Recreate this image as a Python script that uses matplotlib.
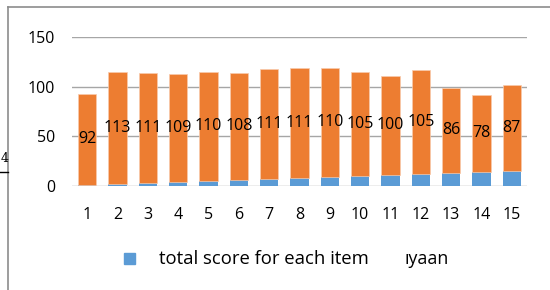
import matplotlib.pyplot as plt
from matplotlib.patches import Rectangle
from matplotlib.lines import Line2D

# item numbers (blue series) and score per item (orange series)
items = [str(i) for i in range(1, 16)]
item_no = [1, 2, 3, 4, 5, 6, 7, 8, 9, 10, 11, 12, 13, 14, 15]
score = [92, 113, 111, 109, 110, 108, 111, 111, 110, 105, 100, 105, 86, 78, 87]
yticks = [0, 50, 100, 150]

blue = '#5B9BD5'
orange = '#ED7D31'
grid = '#A6A6A6'
fnt = 'Open Sans'

fig = plt.figure(figsize=(5.5, 2.9), dpi=100)
ax = fig.add_axes([72/550, 1-186/290, 455/550, 149/290])

x = list(range(len(items)))
ax.bar(x, item_no, width=0.6, color=blue, zorder=3)
ax.bar(x, score, width=0.6, bottom=item_no, color=orange, zorder=3,
       edgecolor='#F8CBAD', linewidth=0.5)

# data labels in the middle of the orange segment
for xi, b, s in zip(x, item_no, score):
    ax.text(xi, b + s/2, str(s), ha='center', va='center', fontsize=11.5,
            family=fnt, color='black', zorder=4)

ax.set_xlim(-0.5, len(items) - 0.5)
ax.set_ylim(0, 150)
ax.set_yticks(yticks)
ax.set_yticklabels([str(v) for v in yticks], family=fnt, fontsize=11.5)
ax.set_xticks(x)
ax.set_xticklabels(items, family=fnt, fontsize=11.5)
ax.tick_params(length=0, pad=15, axis='x')
ax.tick_params(length=0, pad=12, axis='y')
ax.grid(axis='y', color=grid, linewidth=1, zorder=0)
for sp in ax.spines.values():
    sp.set_visible(False)

# legend (drawn by hand, second entry is partly hidden in the source)
fig.patches.append(Rectangle((124/550, 1-264/290), 11/550, 11/290,
                             transform=fig.transFigure, color=blue))
fig.text(159/550, 1-259/290, 'total score for each item', family=fnt,
         fontsize=13.3, va='center', ha='left')
fig.text(405/550, 1-259/290, 'ıyaan', family=fnt, fontsize=12.8,
         va='center', ha='left')

# chart frame and screenshot remnants
fig.lines.append(Line2D([8/550, 1], [1-7/290, 1-7/290], transform=fig.transFigure,
                        color='#8C8C8C', linewidth=1.2))
fig.lines.append(Line2D([8/550, 8/550], [0, 1-7/290], transform=fig.transFigure,
                        color='#8C8C8C', linewidth=1.2))
fig.lines.append(Line2D([0, 8/550], [1-172/290, 1-172/290], transform=fig.transFigure,
                        color='black', linewidth=1))
fig.text(1/550, 1-159/290, '4', family='DejaVu Serif', fontsize=9, va='center')

fig.savefig('out.png', dpi=100)
